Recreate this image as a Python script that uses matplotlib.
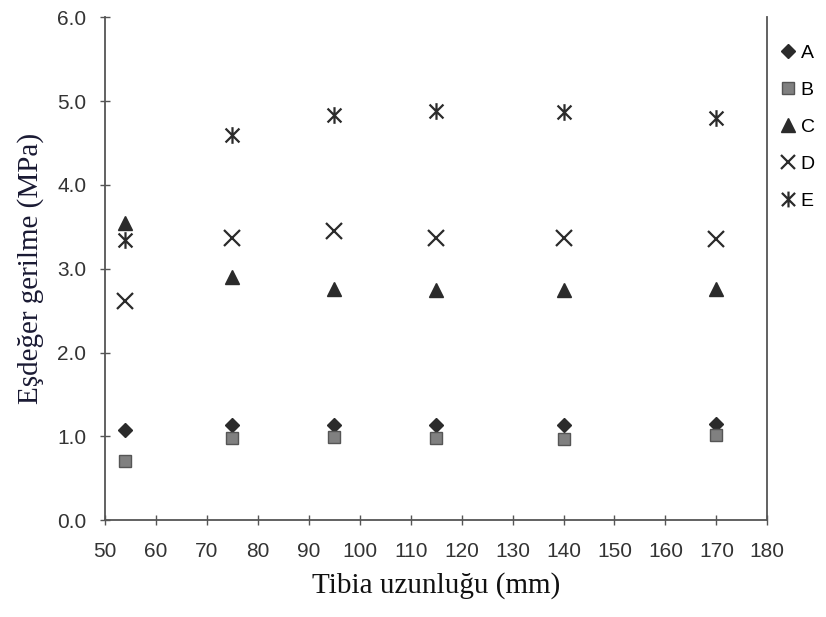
import numpy as np
import matplotlib
matplotlib.use("Agg")
import matplotlib.pyplot as plt
from matplotlib.path import Path

# tibia length (mm) and equivalent stress (MPa) per series
tibia = [54, 75, 95, 115, 140, 170]
a_vals = [1.07, 1.13, 1.13, 1.13, 1.14, 1.15]
b_vals = [0.71, 0.98, 0.99, 0.98, 0.97, 1.01]
c_vals = [3.55, 2.90, 2.76, 2.75, 2.75, 2.76]
d_vals = [2.61, 3.37, 3.45, 3.37, 3.37, 3.36]
e_vals = [3.34, 4.59, 4.83, 4.88, 4.87, 4.80]
series_names = ["A", "B", "C", "D", "E"]

xticks = np.arange(50, 181, 10)
yticks = np.arange(0, 6.01, 1.0)

# Excel-style star: an x with a vertical bar through it
star = Path([(-0.5, -0.5), (0.5, 0.5), (-0.5, 0.5), (0.5, -0.5), (0, -0.6), (0, 0.6)],
            [Path.MOVETO, Path.LINETO, Path.MOVETO, Path.LINETO, Path.MOVETO, Path.LINETO])

fig = plt.figure(figsize=(8.26, 6.17), dpi=100)
ax = fig.add_axes([0.127, 0.157, 0.802, 0.815])

ax.plot(tibia, a_vals, ls="none", marker="D", ms=7, color="#2b2b2b", label=series_names[0])
ax.plot(tibia, b_vals, ls="none", marker="s", ms=8.5, mfc="#808080", mec="#555555", mew=1, label=series_names[1])
ax.plot(tibia, c_vals, ls="none", marker="^", ms=10, color="#2b2b2b", label=series_names[2])
ax.plot(tibia, d_vals, ls="none", marker="x", ms=11, mew=1.6, color="#2b2b2b", label=series_names[3])
ax.plot(tibia, e_vals, ls="none", marker=star, ms=12, mew=1.6, color="#2b2b2b", label=series_names[4])

ax.set_xlim(50, 180)
ax.set_ylim(0, 6)
ax.set_xticks(xticks)
ax.set_yticks(yticks)
ax.set_yticklabels([f"{v:.1f}" for v in yticks])

for side in ["left", "bottom", "right"]:
    ax.spines[side].set_color("#555555")
    ax.spines[side].set_linewidth(1.3)
ax.spines["top"].set_visible(False)

ax.tick_params(direction="inout", length=7, width=1, color="#555555",
               labelsize=15, labelcolor="#333333")
ax.tick_params(axis="x", pad=12)
ax.tick_params(axis="y", pad=10)
for lbl in ax.get_xticklabels() + ax.get_yticklabels():
    lbl.set_family("Liberation Sans")

ax.set_xlabel("Tibia uzunluğu (mm)", family="Liberation Serif", fontsize=21, color="#111111", labelpad=8)
ax.set_ylabel("Eşdeğer gerilme (MPa)", family="Liberation Serif", fontsize=21, color="#1a1a33", labelpad=9)

leg = ax.legend(loc="upper left", bbox_to_anchor=(1.008, 0.962), frameon=False,
                handlelength=0.8, handletextpad=0.25, labelspacing=1.0, borderaxespad=0,
                prop={"family": "Liberation Sans", "size": 14}, markerscale=0.95)

plt.savefig("out.png", dpi=100)
